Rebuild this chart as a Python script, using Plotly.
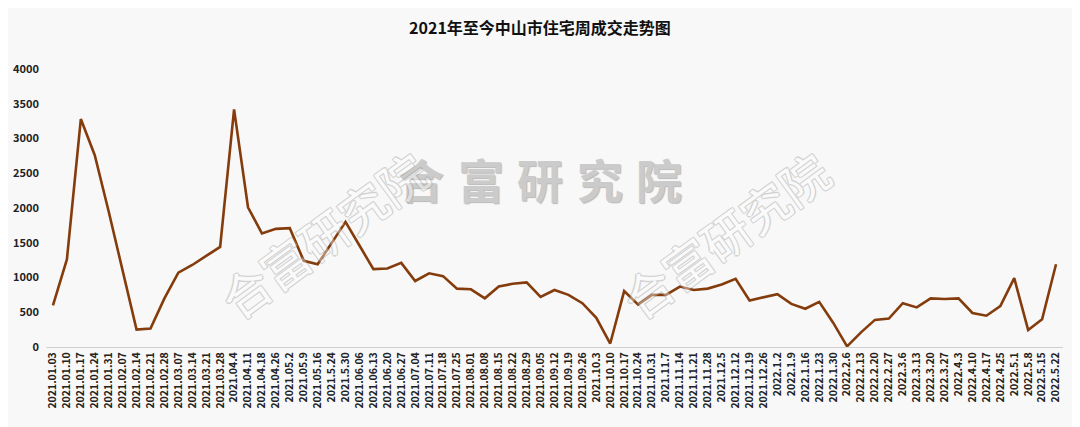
import plotly.graph_objects as go

weeks = [
    "2021.01.03", "2021.01.10", "2021.01.17", "2021.01.24", "2021.01.31", "2021.02.07",
    "2021.02.14", "2021.02.21", "2021.02.28", "2021.03.07", "2021.03.14", "2021.03.21",
    "2021.03.28", "2021.04.4", "2021.04.11", "2021.04.18", "2021.04.26", "2021.05.2",
    "2021.05.9", "2021.05.16", "2021.5.24", "2021.5.30", "2021.06.06", "2021.06.13",
    "2021.06.20", "2021.06.27", "2021.07.04", "2021.07.11", "2021.07.18", "2021.07.25",
    "2021.08.01", "2021.08.08", "2021.08.15", "2021.08.22", "2021.08.29", "2021.09.05",
    "2021.09.12", "2021.09.19", "2021.09.26", "2021.10.3", "2021.10.10", "2021.10.17",
    "2021.10.24", "2021.10.31", "2021.11.7", "2021.11.14", "2021.11.21", "2021.11.28",
    "2021.12.5", "2021.12.12", "2021.12.19", "2021.12.26", "2022.1.2", "2022.1.9",
    "2022.1.16", "2022.1.23", "2022.1.30", "2022.2.6", "2022.2.13", "2022.2.20",
    "2022.2.27", "2022.3.6", "2022.3.13", "2022.3.20", "2022.3.27", "2022.4.3",
    "2022.4.10", "2022.4.17", "2022.4.25", "2022.5.1", "2022.5.8", "2022.5.15",
    "2022.5.22",
]

volumes = [
    600, 1260, 3280, 2760, 1950, 1100, 250, 265, 700, 1070, 1180, 1310,
    1440, 3420, 2010, 1635, 1700, 1710, 1240, 1190, 1500, 1800, 1460, 1120,
    1130, 1210, 950, 1060, 1020, 840, 830, 700, 870, 910, 930, 720,
    820, 750, 630, 420, 50, 805, 610, 750, 750, 870, 820, 840,
    900, 980, 670, 720, 760, 620, 550, 650, 350, 10, 210, 390,
    410, 630, 570, 700, 690, 700, 490, 450, 590, 990, 245, 400,
    1190,
]

y_ticks = [0, 500, 1000, 1500, 2000, 2500, 3000, 3500, 4000]

title_text = "2021年至今中山市住宅周成交走势图"
watermark = "合富研究院"

bg = "#f8f8f8"
font_family = "Noto Sans CJK SC"

# plot area in page pixels (page body has an 8px margin)
PL, PR, PT, PB = 46, 1063, 69, 347


def px_to_paper(x, y):
    return (x - PL) / (PR - PL), (PB - y) / (PB - PT)


fig = go.Figure()
fig.add_trace(go.Scatter(
    x=weeks, y=volumes, mode="lines",
    line=dict(color="#843c0c", width=2.6),
    hoverinfo="x+y",
))

# central grey watermark, one glyph per annotation
for i, ch in enumerate(watermark):
    px, py = px_to_paper(421 + i * 59.5, 178)
    fig.add_annotation(
        x=px, y=py, xref="paper", yref="paper", text=ch, showarrow=False,
        xanchor="center", yanchor="middle",
        font=dict(family=font_family, size=46, color="#cbcbcb", weight="bold",
                  shadow="1px 1px 1px #b8b8b8"),
    )

# diagonal outlined watermarks (semi-transparent so the line shows through)
for cx in (323, 725):
    px, py = px_to_paper(cx, 234)
    fig.add_annotation(
        x=px, y=py, xref="paper", yref="paper",
        xanchor="center", yanchor="middle",
        text=watermark, showarrow=False, textangle=-36, opacity=0.4,
        font=dict(family=font_family, size=48, color="#ffffff",
                  shadow="1px 1px 0px #9a9a9a, -1px -1px 0px #9a9a9a, 1px -1px 0px #9a9a9a, -1px 1px 0px #9a9a9a"),
    )

fig.update_layout(
    width=1080, height=427,
    paper_bgcolor=bg, plot_bgcolor=bg,
    margin=dict(l=PL - 8, r=1080 + 8 - PR, t=PT - 8, b=427 + 8 - PB),
    showlegend=False,
    title=dict(
        text=title_text, x=532 / 1080, xanchor="center", y=1 - 20 / 427, yanchor="middle",
        font=dict(family=font_family, size=16, color="#111111", weight="bold"),
    ),
    xaxis=dict(
        type="category", range=[-0.5, len(weeks) - 0.5],
        tickangle=-90, tickmode="array", tickvals=weeks, ticktext=weeks,
        tickfont=dict(family=font_family, size=10.5, color="#222222", weight="bold"),
        showgrid=False, showline=True, linecolor="#d0d0d0", linewidth=1,
        ticks="", zeroline=False, automargin=False,
    ),
    yaxis=dict(
        range=[0, 4000], tickmode="array", tickvals=y_ticks,
        tickfont=dict(family=font_family, size=11, color="#222222", weight="bold"),
        showgrid=False, showline=False, zeroline=False, ticks="",
        ticklabelstandoff=6, automargin=False,
    ),
)

fig.write_html("out.html")
